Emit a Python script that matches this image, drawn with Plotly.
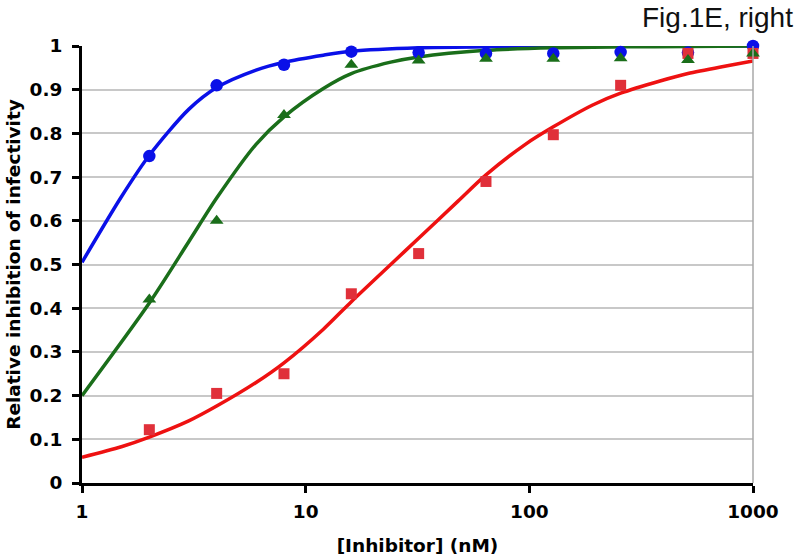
import plotly.graph_objects as go

# Measured data (x in nM)
conc = [2, 4, 8, 16, 32, 64, 128, 256, 512, 1000]
blue_pts = [0.748, 0.910, 0.957, 0.987, 0.985, 0.983, 0.983, 0.986, 0.985, 1.000]
green_pts = [0.420, 0.600, 0.842, 0.957, 0.967, 0.971, 0.971, 0.972, 0.968, 0.983]
red_pts = [0.122, 0.205, 0.250, 0.433, 0.525, 0.690, 0.797, 0.910, 0.983, 0.983]

# Fitted curves
blue_fit_x = [1, 1.5, 2, 3, 4, 6, 8, 12, 16, 32, 64, 128, 256, 512, 1000]
blue_fit_y = [0.505, 0.655, 0.750, 0.855, 0.905, 0.945, 0.963, 0.979, 0.988, 0.996, 0.998, 0.999, 1.0, 1.0, 1.0]
green_fit_x = [1, 2, 3, 4, 6, 8, 12, 16, 24, 32, 64, 128, 256, 512, 1000]
green_fit_y = [0.200, 0.412, 0.552, 0.652, 0.775, 0.838, 0.903, 0.937, 0.963, 0.975, 0.990, 0.996, 0.998, 0.999, 1.0]
red_fit_x = [1, 1.5, 2, 3, 4, 6, 8, 12, 16, 24, 32, 48, 64, 96, 128, 192, 256, 384, 512, 768, 1000]
red_fit_y = [0.059, 0.083, 0.105, 0.142, 0.176, 0.230, 0.275, 0.352, 0.415, 0.500, 0.560, 0.645, 0.705, 0.775, 0.815, 0.865, 0.892, 0.920, 0.937, 0.955, 0.966]

x_ticks = [1, 10, 100, 1000]
x_tick_labels = ["1", "10", "100", "1000"]

BLUE = "#0a10e8"
GREEN = "#1a6e1a"
RED = "#ee1111"
RED_M = "#e0303a"

fig = go.Figure()
fig.add_trace(go.Scatter(x=red_fit_x, y=red_fit_y, mode="lines", line=dict(color=RED, width=3.5, shape="spline", smoothing=0.8), showlegend=False))
fig.add_trace(go.Scatter(x=blue_fit_x, y=blue_fit_y, mode="lines", line=dict(color=BLUE, width=3.5, shape="spline", smoothing=0.8), showlegend=False))
fig.add_trace(go.Scatter(x=green_fit_x, y=green_fit_y, mode="lines", line=dict(color=GREEN, width=3.5, shape="spline", smoothing=0.8), showlegend=False))
fig.add_trace(go.Scatter(x=conc, y=blue_pts, mode="markers", marker=dict(symbol="circle", size=12.5, color=BLUE), cliponaxis=False, showlegend=False))
fig.add_trace(go.Scatter(x=conc, y=red_pts, mode="markers", marker=dict(symbol="square", size=11, color=RED_M), cliponaxis=False, showlegend=False))
fig.add_trace(go.Scatter(x=conc, y=green_pts, mode="markers", marker=dict(symbol="triangle-up", size=12, color=GREEN), cliponaxis=False, showlegend=False))

axis_font = dict(family="DejaVu Sans", size=18.5, color="black", weight="bold")

fig.update_layout(
    width=800, height=560,
    margin=dict(l=82, r=47, t=46, b=77),
    paper_bgcolor="white", plot_bgcolor="white",
    font=dict(family="DejaVu Sans", color="black"),
    xaxis=dict(
        type="log", range=[0, 3], tickvals=x_ticks, ticktext=x_tick_labels,
        tickfont=axis_font, showgrid=False, zeroline=False, automargin=False,
        showline=True, linecolor="black", linewidth=3,
        ticks="outside", ticklen=7, tickwidth=3, tickcolor="black",
        ticklabelstandoff=3,
        title=dict(text="[Inhibitor] (nM)", font=axis_font, standoff=18),
    ),
    yaxis=dict(
        range=[0, 1], dtick=0.1, tick0=0, tickfont=axis_font, automargin=False,
        showgrid=True, gridcolor="#c8c8c8", gridwidth=1.5, zeroline=False,
        showline=True, linecolor="black", linewidth=3,
        ticks="outside", ticklen=7, tickwidth=3, tickcolor="black",
        ticklabelstandoff=6,
        title=dict(text="Relative inhibition of infectivity", font=axis_font, standoff=5),
    ),
    annotations=[dict(text="Fig.1E, right", xref="paper", yref="paper", x=1.0626, y=1.0, yshift=29,
                      xanchor="right", yanchor="middle", showarrow=False,
                      font=dict(family="Liberation Sans", size=28, color="#111"))],
    shapes=[dict(type="line", xref="paper", yref="paper", x0=1, x1=1, y0=0, y1=1,
                 line=dict(color="#a8a8a8", width=1.5))],
)
fig.write_html("out.html", config={"displayModeBar": False},
               post_script="document.body.style.margin='0px';")
